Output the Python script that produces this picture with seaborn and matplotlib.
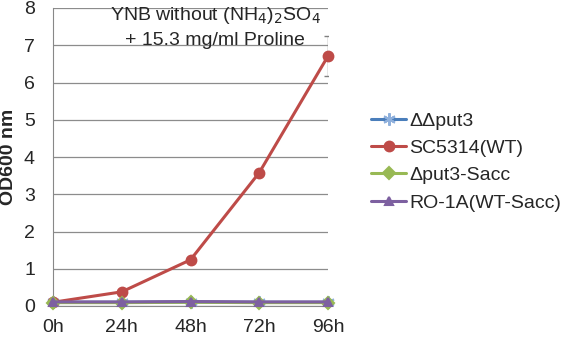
import matplotlib
matplotlib.use('Agg')
import matplotlib.pyplot as plt
import seaborn as sns
import pandas as pd

# Datos
time_labels = ['0h', '24h', '48h', '72h', '96h']
series_names = ['ΔΔput3', 'SC5314(WT)', 'Δput3-Sacc', 'RO-1A(WT-Sacc)']
ddput3 = [0.10, 0.10, 0.11, 0.10, 0.10]
sc5314 = [0.10, 0.38, 1.24, 3.58, 6.71]
dput3_sacc = [0.09, 0.09, 0.10, 0.09, 0.09]
ro1a = [0.11, 0.11, 0.12, 0.11, 0.11]
sc5314_err = [0, 0, 0, 0, 0.54]

colors = ['#4a7ebb', '#be4b48', '#98b954', '#7d60a0']
marker_colors = ['#8fb0dc', '#be4b48', '#98b954', '#7d60a0']
markers = [(6, 2, 0), 'o', 'D', '^']
marker_sizes = [9, 7, 6, 6]

sns.set_style('white')
plt.rcParams['font.family'] = ['Liberation Sans', 'DejaVu Sans']

fig = plt.figure(figsize=(5.66, 3.38), dpi=100)
# area del grafico medida en pixeles del original
ax = fig.add_axes([53 / 566, 32 / 338, 275 / 566, 298 / 338])

values = [ddput3, sc5314, dput3_sacc, ro1a]
pos = list(range(len(time_labels)))
for name, vals, c, mc, m, ms in zip(series_names, values, colors, marker_colors, markers, marker_sizes):
    df = pd.DataFrame({'t': pos, 'od': vals})
    sns.lineplot(data=df, x='t', y='od', ax=ax, color=c, marker=m,
                 markersize=ms, markeredgecolor=mc, markerfacecolor=mc,
                 markeredgewidth=1.5, linewidth=2.2, label=name,
                 clip_on=False, zorder=3)

# barra de error en 96h
ax.errorbar(pos, sc5314, yerr=sc5314_err, fmt='none', ecolor='#808080',
            elinewidth=1, capsize=3, zorder=2)

ax.set_xlim(0, 4)
ax.set_ylim(0, 8)
ax.set_xticks(pos)
ax.set_xticklabels(time_labels, fontsize=14)
ax.set_yticks(range(0, 9))
ax.tick_params(axis='y', labelsize=14, length=4, color='#888888', direction='out', pad=9)
ax.tick_params(axis='x', length=0, pad=9)
ax.yaxis.grid(True, color='#8c8c8c', linewidth=0.9)
ax.xaxis.grid(False)
for s in ['top', 'right']:
    ax.spines[s].set_visible(False)
ax.spines['left'].set_color('#888888')
ax.spines['bottom'].set_color('#888888')
ax.set_xlabel('')
ax.set_ylabel('OD600 nm', fontsize=14, fontweight='bold', labelpad=5)

ax.text(2.36, 7.81, 'YNB without (NH$_4$)$_2$SO$_4$', ha='center', va='center', fontsize=14)
ax.text(2.36, 7.14, '+ 15.3 mg/ml Proline', ha='center', va='center', fontsize=14)

ax.legend(loc='upper left', bbox_to_anchor=(371 / 566, 1 - 112 / 338),
          bbox_transform=fig.transFigure, frameon=False, fontsize=14,
          borderpad=0, borderaxespad=0, handlelength=1.8,
          labelspacing=0.5, handletextpad=0.15)

plt.savefig('out.png', dpi=100)
